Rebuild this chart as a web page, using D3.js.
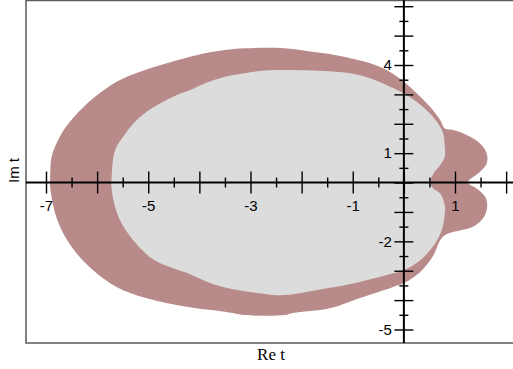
<!DOCTYPE html>
<html>
<head>
<meta charset="utf-8">
<script src="https://cdn.jsdelivr.net/npm/d3@7"></script>
<style>
  body { margin: 0; background: #fff; }
  svg { display: block; }
  .tick text { font-family: "Liberation Sans", Arial, sans-serif; font-size: 15px; fill: #000; }
</style>
</head>
<body>
<svg width="513" height="369"></svg>
<script>
// boundary of the outer region, [Re t, Im t]
const outerUpper = [
  [-6.92, 0], [-6.89, 0.88], [-6.77, 1.42], [-6.64, 1.82], [-6.48, 2.18], [-6.27, 2.56],
  [-6.01, 2.96], [-5.62, 3.43], [-5.16, 3.77], [-4.64, 4.06], [-4.18, 4.28], [-3.89, 4.40],
  [-3.50, 4.51], [-3.11, 4.57], [-2.33, 4.57], [-1.80, 4.45], [-1.35, 4.34], [-1.05, 4.23],
  [-0.66, 4.06], [-0.34, 3.83], [-0.01, 3.45], [0.25, 3.04], [0.51, 2.58], [0.71, 2.13],
  [0.80, 1.84], [0.97, 1.79], [1.23, 1.62], [1.49, 1.33], [1.62, 0.99], [1.62, 0.65],
  [1.49, 0.37], [1.25, 0]
];
const outerLower = [
  [1.42, -0.20], [1.59, -0.48], [1.63, -0.80], [1.57, -1.16], [1.35, -1.50], [0.96, -1.68],
  [0.80, -1.79], [0.71, -1.96], [0.57, -2.50], [0.32, -3.04], [0.00, -3.42], [-0.21, -3.55],
  [-0.86, -3.93], [-1.45, -4.28], [-2.17, -4.44], [-2.33, -4.51], [-3.11, -4.51], [-3.50, -4.40],
  [-4.25, -4.23], [-5.03, -3.94], [-5.62, -3.55], [-6.08, -2.98], [-6.40, -2.41], [-6.66, -1.73],
  [-6.82, -1.05], [-6.92, -0.14]
];

// boundary of the inner region
const innerUpper = [
  [-5.72, 0], [-5.68, 0.88], [-5.62, 1.22], [-5.49, 1.56], [-5.29, 2.01], [-5.03, 2.41],
  [-4.77, 2.69], [-4.44, 2.98], [-4.18, 3.15], [-3.89, 3.38], [-3.50, 3.60], [-3.11, 3.72],
  [-2.72, 3.81], [-2.33, 3.83], [-1.80, 3.81], [-1.35, 3.77], [-1.05, 3.72], [-0.66, 3.55],
  [-0.27, 3.26], [0.00, 3.04], [0.25, 2.75], [0.51, 2.35], [0.67, 2.01], [0.77, 1.67],
  [0.80, 1.22], [0.80, 0.88], [0.71, 0.60], [0.58, 0.31], [0.51, 0]
];
const innerLower = [
  [0.57, -0.19], [0.71, -0.37], [0.80, -0.77], [0.80, -1.05], [0.74, -1.62], [0.57, -2.18],
  [0.32, -2.64], [0.00, -2.98], [-0.21, -3.09], [-0.86, -3.38], [-1.51, -3.60], [-2.33, -3.83],
  [-2.72, -3.79], [-3.50, -3.57], [-3.89, -3.35], [-4.18, -3.12], [-4.51, -2.92], [-4.90, -2.62],
  [-5.23, -2.09], [-5.52, -1.39], [-5.65, -0.82], [-5.72, -0.14]
];

// ticks
const xMajor = [-7, -6, -5, -4, -3, -2, -1, 0, 1, 2];
const xMinor = [-6.5, -5.5, -4.5, -3.5, -2.5, -1.5, -0.5, 0.5, 1.5];
const xLabels = [-7, -5, -3, -1, 1];
const yMajor = [-5, -4, -3, -2, -1, 0, 1, 2, 3, 4, 5, 6];
const yMinor = [-4.5, -3.5, -2.5, -1.5, -0.5, 0.5, 1.5, 2.5, 3.5, 4.5, 5.5];
const yLabels = [-5, -2, 1, 4];

const svg = d3.select("svg");
const frame = { left: 26, top: 0.5, right: 513, bottom: 343 };

const x = d3.scaleLinear().domain([-7, 1]).range([46, 455]);
const y = d3.scaleLinear().domain([4, -5]).range([65, 329.5]);

const line = d3.line()
  .x(d => x(d[0]))
  .y(d => y(d[1]))
  .curve(d3.curveCatmullRomClosed.alpha(0.5));

// regions
svg.append("path")
  .attr("d", line(outerUpper.concat(outerLower)))
  .attr("fill", "#b98a8a");

svg.append("path")
  .attr("d", line(innerUpper.concat(innerLower)))
  .attr("fill", "#dcdcdc");

// frame
svg.append("rect")
  .attr("x", frame.left)
  .attr("y", frame.top)
  .attr("width", 600)
  .attr("height", frame.bottom - frame.top)
  .attr("fill", "none")
  .attr("stroke", "#5a5a5a")
  .attr("stroke-width", 1.5);

// x axis through the origin
const xAxisG = svg.append("g").attr("transform", `translate(0,${y(0)})`);

xAxisG.append("g")
  .call(d3.axisBottom(x).tickValues(xMinor).tickSize(0).tickFormat(""))
  .call(g => g.select(".domain").remove())
  .call(g => g.selectAll(".tick line").attr("y1", -5).attr("y2", 5).attr("stroke-width", 1.4));

xAxisG.append("g")
  .call(d3.axisBottom(x).tickValues(xMajor).tickSize(0)
    .tickFormat(d => xLabels.includes(d) ? d : ""))
  .call(g => g.select(".domain").remove())
  .call(g => g.selectAll(".tick line").attr("y1", -11).attr("y2", 11).attr("stroke-width", 1.4))
  .call(g => g.selectAll(".tick text").attr("y", 18).attr("dy", "0.71em").text(d => xLabels.includes(d) ? String(d) : ""));

xAxisG.append("line")
  .attr("x1", frame.left).attr("x2", frame.right)
  .attr("stroke", "#000").attr("stroke-width", 2);

// y axis through the origin
const yAxisG = svg.append("g").attr("transform", `translate(${x(0)},0)`);

yAxisG.append("g")
  .call(d3.axisLeft(y).tickValues(yMinor).tickSize(0).tickFormat(""))
  .call(g => g.select(".domain").remove())
  .call(g => g.selectAll(".tick line").attr("x1", -4.5).attr("x2", 4.5).attr("stroke-width", 1.4));

yAxisG.append("g")
  .call(d3.axisLeft(y).tickValues(yMajor).tickSize(0))
  .call(g => g.select(".domain").remove())
  .call(g => g.selectAll(".tick line").attr("x1", -9.5).attr("x2", 9.5).attr("stroke-width", 1.4))
  .call(g => g.selectAll(".tick text").attr("x", -12).text(d => yLabels.includes(d) ? String(d) : ""));

yAxisG.append("line")
  .attr("y1", 0).attr("y2", frame.bottom)
  .attr("stroke", "#000").attr("stroke-width", 2);

// axis titles
svg.append("text")
  .attr("transform", "translate(19,170.5) rotate(-90)")
  .attr("text-anchor", "middle")
  .style("font-family", "'Liberation Sans', Arial, sans-serif")
  .style("font-size", "15px")
  .text("Im t");

svg.append("text")
  .attr("x", 271)
  .attr("y", 360)
  .attr("text-anchor", "middle")
  .style("font-family", "'Liberation Serif', 'Times New Roman', serif")
  .style("font-size", "17px")
  .text("Re t");
</script>
</body>
</html>
